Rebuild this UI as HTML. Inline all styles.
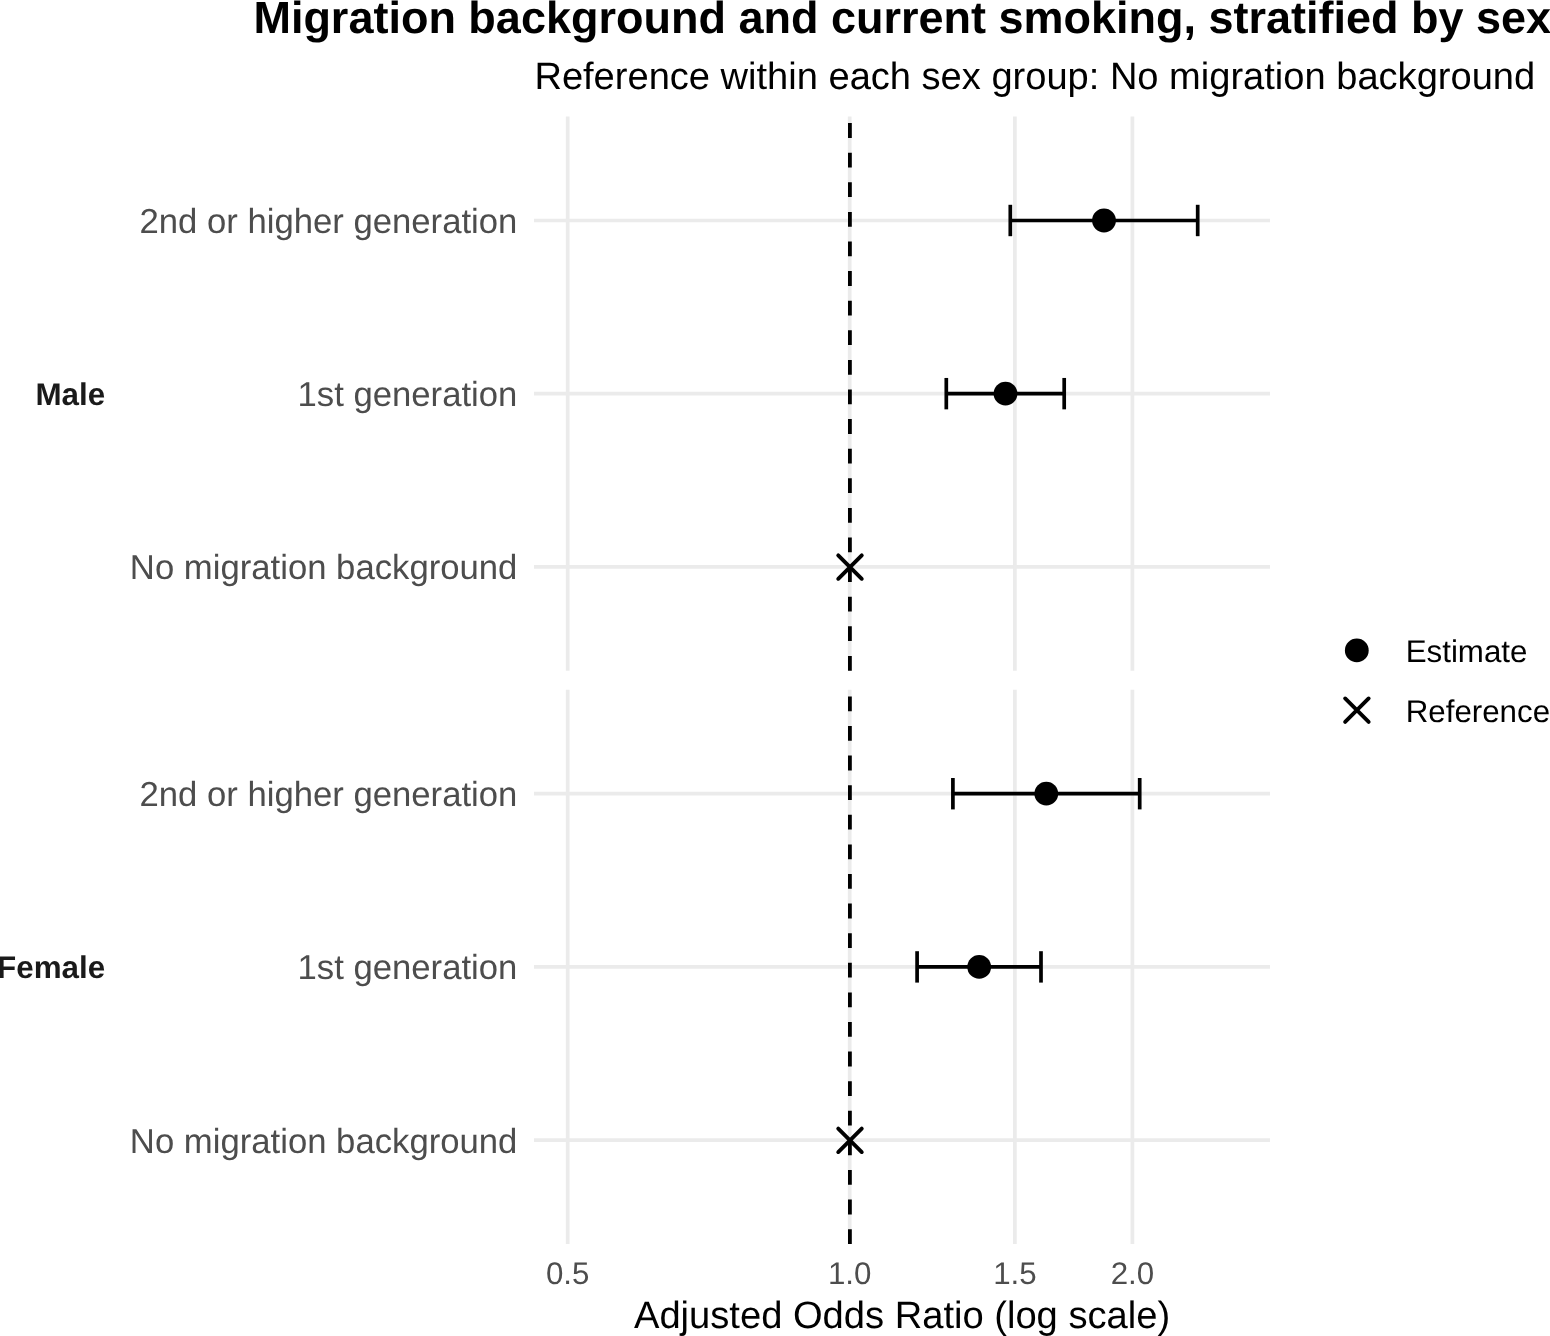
<!DOCTYPE html>
<html><head><meta charset="utf-8"><title>Forest plot</title>
<style>html,body{margin:0;padding:0;background:#fff;overflow:hidden}svg{display:block;will-change:transform}text{text-rendering:geometricPrecision}</style>
</head><body>
<svg width="1550" height="1336" viewBox="0 0 1550 1336">
<rect width="1550" height="1336" fill="#fff"/>
<line x1="534.0" y1="220.49" x2="1270.0" y2="220.49" stroke="#EBEBEB" stroke-width="3.7"/>
<line x1="534.0" y1="393.65" x2="1270.0" y2="393.65" stroke="#EBEBEB" stroke-width="3.7"/>
<line x1="534.0" y1="566.81" x2="1270.0" y2="566.81" stroke="#EBEBEB" stroke-width="3.7"/>
<line x1="567.7" y1="116.6" x2="567.7" y2="670.7" stroke="#EBEBEB" stroke-width="3.7"/>
<line x1="849.7" y1="116.6" x2="849.7" y2="670.7" stroke="#EBEBEB" stroke-width="3.7"/>
<line x1="1014.9" y1="116.6" x2="1014.9" y2="670.7" stroke="#EBEBEB" stroke-width="3.7"/>
<line x1="1132.4" y1="116.6" x2="1132.4" y2="670.7" stroke="#EBEBEB" stroke-width="3.7"/>
<line x1="849.9" y1="670.7" x2="849.9" y2="116.6" stroke="#000" stroke-width="3.8" stroke-dasharray="14.8 14.8"/>
<line x1="1010.3" y1="220.49" x2="1197.7" y2="220.49" stroke="#000" stroke-width="3.7"/>
<line x1="1010.3" y1="204.79" x2="1010.3" y2="236.19" stroke="#000" stroke-width="3.7"/>
<line x1="1197.7" y1="204.79" x2="1197.7" y2="236.19" stroke="#000" stroke-width="3.7"/>
<circle cx="1104.0" cy="220.49" r="11.9" fill="#000"/>
<line x1="946.3" y1="393.65" x2="1064.2" y2="393.65" stroke="#000" stroke-width="3.7"/>
<line x1="946.3" y1="377.95" x2="946.3" y2="409.35" stroke="#000" stroke-width="3.7"/>
<line x1="1064.2" y1="377.95" x2="1064.2" y2="409.35" stroke="#000" stroke-width="3.7"/>
<circle cx="1005.5" cy="393.65" r="11.9" fill="#000"/>
<path d="M838.25,555.26L861.75,578.76M861.75,555.26L838.25,578.76" stroke="#000" stroke-width="3.9" stroke-linecap="round" fill="none"/>
<line x1="534.0" y1="793.71" x2="1270.0" y2="793.71" stroke="#EBEBEB" stroke-width="3.7"/>
<line x1="534.0" y1="966.90" x2="1270.0" y2="966.90" stroke="#EBEBEB" stroke-width="3.7"/>
<line x1="534.0" y1="1140.09" x2="1270.0" y2="1140.09" stroke="#EBEBEB" stroke-width="3.7"/>
<line x1="567.7" y1="689.8" x2="567.7" y2="1244.0" stroke="#EBEBEB" stroke-width="3.7"/>
<line x1="849.7" y1="689.8" x2="849.7" y2="1244.0" stroke="#EBEBEB" stroke-width="3.7"/>
<line x1="1014.9" y1="689.8" x2="1014.9" y2="1244.0" stroke="#EBEBEB" stroke-width="3.7"/>
<line x1="1132.4" y1="689.8" x2="1132.4" y2="1244.0" stroke="#EBEBEB" stroke-width="3.7"/>
<line x1="849.9" y1="1244.0" x2="849.9" y2="689.8" stroke="#000" stroke-width="3.8" stroke-dasharray="14.8 14.8"/>
<line x1="952.9" y1="793.71" x2="1139.7" y2="793.71" stroke="#000" stroke-width="3.7"/>
<line x1="952.9" y1="778.01" x2="952.9" y2="809.41" stroke="#000" stroke-width="3.7"/>
<line x1="1139.7" y1="778.01" x2="1139.7" y2="809.41" stroke="#000" stroke-width="3.7"/>
<circle cx="1046.3" cy="793.71" r="11.9" fill="#000"/>
<line x1="917.1" y1="966.90" x2="1041.0" y2="966.90" stroke="#000" stroke-width="3.7"/>
<line x1="917.1" y1="951.20" x2="917.1" y2="982.60" stroke="#000" stroke-width="3.7"/>
<line x1="1041.0" y1="951.20" x2="1041.0" y2="982.60" stroke="#000" stroke-width="3.7"/>
<circle cx="979.2" cy="966.90" r="11.9" fill="#000"/>
<path d="M838.25,1128.54L861.75,1152.04M861.75,1128.54L838.25,1152.04" stroke="#000" stroke-width="3.9" stroke-linecap="round" fill="none"/>
<text x="517.4" y="232.99" font-family="Liberation Sans, sans-serif" font-size="34.7" fill="#4D4D4D" text-anchor="end">2nd or higher generation</text>
<text x="517.4" y="406.15" font-family="Liberation Sans, sans-serif" font-size="34.7" fill="#4D4D4D" text-anchor="end">1st generation</text>
<text x="517.4" y="579.31" font-family="Liberation Sans, sans-serif" font-size="34.7" fill="#4D4D4D" text-anchor="end">No migration background</text>
<text x="517.4" y="806.21" font-family="Liberation Sans, sans-serif" font-size="34.7" fill="#4D4D4D" text-anchor="end">2nd or higher generation</text>
<text x="517.4" y="979.40" font-family="Liberation Sans, sans-serif" font-size="34.7" fill="#4D4D4D" text-anchor="end">1st generation</text>
<text x="517.4" y="1152.59" font-family="Liberation Sans, sans-serif" font-size="34.7" fill="#4D4D4D" text-anchor="end">No migration background</text>
<text x="105.2" y="405.10" font-family="Liberation Sans, sans-serif" font-size="31.4" font-weight="bold" fill="#1A1A1A" text-anchor="end">Male</text>
<text x="105.2" y="978.35" font-family="Liberation Sans, sans-serif" font-size="31.4" font-weight="bold" fill="#1A1A1A" text-anchor="end">Female</text>
<text x="567.7" y="1284.2" font-family="Liberation Sans, sans-serif" font-size="31.3" fill="#4D4D4D" text-anchor="middle">0.5</text>
<text x="849.7" y="1284.2" font-family="Liberation Sans, sans-serif" font-size="31.3" fill="#4D4D4D" text-anchor="middle">1.0</text>
<text x="1014.9" y="1284.2" font-family="Liberation Sans, sans-serif" font-size="31.3" fill="#4D4D4D" text-anchor="middle">1.5</text>
<text x="1132.4" y="1284.2" font-family="Liberation Sans, sans-serif" font-size="31.3" fill="#4D4D4D" text-anchor="middle">2.0</text>
<text x="253.4" y="32.9" font-family="Liberation Sans, sans-serif" font-size="45" font-weight="bold" fill="#000">Migration background and current smoking, stratified by sex</text>
<text x="534.4" y="89" font-family="Liberation Sans, sans-serif" font-size="38.07" fill="#000">Reference within each sex group: No migration background</text>
<text x="633.97" y="1327.7" font-family="Liberation Sans, sans-serif" font-size="38.13" fill="#000">Adjusted Odds Ratio (log scale)</text>
<circle cx="1356.8" cy="650.4" r="11.9" fill="#000"/>
<path d="M1345.15,698.45L1368.65,721.95M1368.65,698.45L1345.15,721.95" stroke="#000" stroke-width="3.9" stroke-linecap="round" fill="none"/>
<text x="1405.7" y="661.8" font-family="Liberation Sans, sans-serif" font-size="31.3" fill="#000">Estimate</text>
<text x="1405.7" y="721.6" font-family="Liberation Sans, sans-serif" font-size="31.3" fill="#000">Reference</text>
</svg>
</body></html>
